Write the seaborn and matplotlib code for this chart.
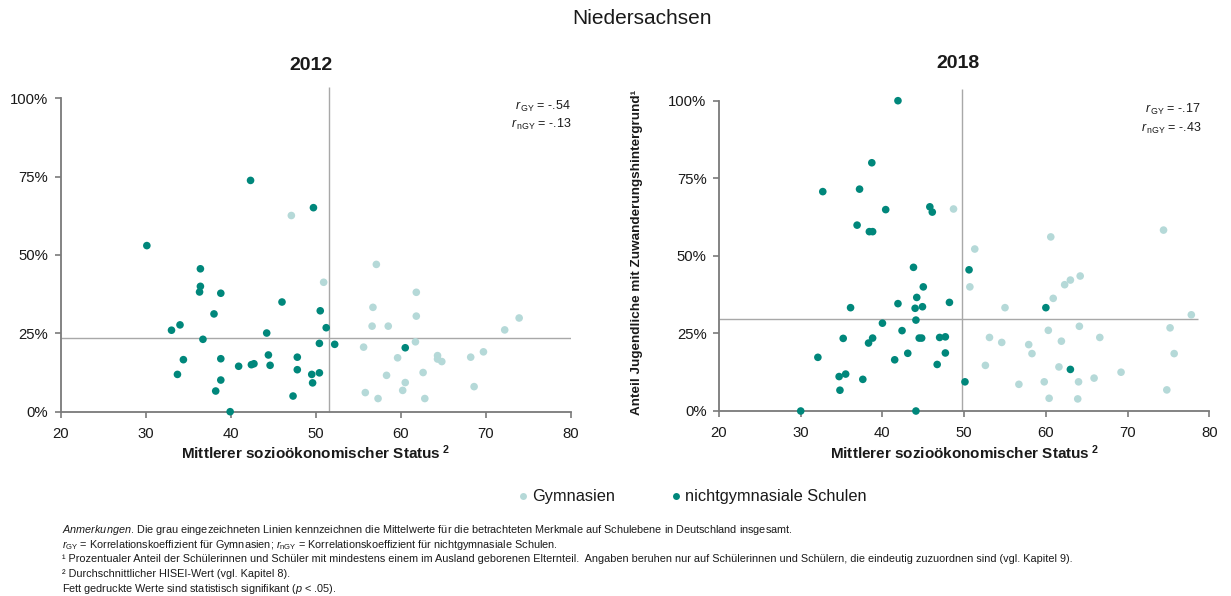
import matplotlib
matplotlib.use("Agg")
import matplotlib.pyplot as plt
import seaborn as sns
import pandas as pd
from matplotlib.lines import Line2D

# ---------------- data ----------------
REGION = "Niedersachsen"
YEARS = ["2012", "2018"]
GROUPS = ["Gymnasien", "nichtgymnasiale Schulen"]

# 2012
gy12_x = [47.1, 57.1, 50.9, 61.8, 56.7, 61.8, 56.6, 58.5, 73.9, 72.2, 61.7, 55.6, 59.6,
          64.3, 64.3, 64.8, 68.2, 69.7, 58.3, 62.6, 60.5, 60.2, 68.6, 55.8, 57.3, 62.8]
gy12_y = [62.6, 47.0, 41.3, 38.1, 33.3, 30.5, 27.3, 27.3, 29.9, 26.1, 22.3, 20.6, 17.2,
          17.9, 16.8, 16.0, 17.4, 19.1, 11.6, 12.5, 9.3, 6.8, 8.0, 6.1, 4.2, 4.2]
ngy12_x = [30.1, 36.4, 42.3, 49.7, 36.4, 36.3, 38.8, 38.0, 46.0, 50.5, 33.0, 34.0, 44.2,
           51.2, 36.7, 50.4, 34.4, 38.8, 44.4, 47.8, 33.7, 40.9, 42.4, 42.7, 44.6, 47.8,
           49.5, 50.4, 38.8, 49.6, 38.2, 47.3, 39.9, 52.2, 60.5]
ngy12_y = [53.0, 45.6, 73.8, 65.1, 40.0, 38.2, 37.8, 31.2, 35.0, 32.2, 26.0, 27.7, 25.1,
           26.8, 23.1, 21.8, 16.6, 16.9, 18.1, 17.4, 11.9, 14.5, 15.0, 15.3, 14.8, 13.4,
           11.9, 12.4, 10.1, 9.2, 6.6, 5.0, 0.0, 21.5, 20.4]

# 2018
gy18_x = [48.7, 60.6, 51.3, 74.4, 50.7, 64.2, 63.0, 62.3, 60.9, 55.0, 77.8, 60.3, 64.1,
          75.2, 53.1, 66.6, 54.6, 57.9, 61.9, 58.3, 75.7, 52.6, 61.6, 69.2, 65.9, 56.7,
          59.8, 64.0, 74.8, 60.4, 63.9]
gy18_y = [65.1, 56.1, 52.2, 58.3, 40.0, 43.5, 42.2, 40.7, 36.3, 33.3, 31.0, 26.0, 27.3,
          26.8, 23.7, 23.7, 22.1, 21.4, 22.5, 18.5, 18.5, 14.7, 14.2, 12.5, 10.6, 8.6,
          9.4, 9.4, 6.8, 4.1, 3.9]
ngy18_x = [41.9, 38.7, 32.7, 37.2, 40.4, 45.8, 46.1, 36.9, 38.4, 38.8, 43.8, 50.6, 45.0,
           44.2, 41.9, 44.0, 44.9, 36.1, 48.2, 44.1, 40.0, 42.4, 35.2, 38.8, 38.3, 44.5,
           44.8, 47.0, 47.7, 47.7, 43.1, 32.1, 41.5, 46.7, 34.7, 35.5, 37.6, 34.8, 30.0,
           44.1, 60.0, 63.0, 50.1]
ngy18_y = [100.0, 80.0, 70.7, 71.5, 64.9, 65.8, 64.1, 59.9, 57.8, 57.8, 46.3, 45.5, 40.0,
           36.6, 34.6, 33.1, 33.6, 33.3, 35.0, 29.3, 28.3, 25.9, 23.4, 23.5, 21.9, 23.5,
           23.5, 23.7, 23.9, 18.7, 18.6, 17.3, 16.5, 15.0, 11.1, 11.9, 10.2, 6.7, 0.0,
           0.0, 33.3, 13.4, 9.4]

MEAN_X = [51.5, 49.7]          # German mean HISEI per year
MEAN_Y = [23.4, 29.5]          # German mean share per year
R_GY = ["-.54", "-.17"]
R_NGY = ["-.13", "-.43"]

X_TICKS = [20, 30, 40, 50, 60, 70, 80]
Y_TICKS = [0, 25, 50, 75, 100]
Y_TICK_LABELS = ["0%", "25%", "50%", "75%", "100%"]

X_LABEL = "Mittlerer sozioökonomischer Status"
Y_LABEL = "Anteil Jugendliche mit Zuwanderungshintergrund¹"

FOOTNOTES = [
    r"$\mathit{Anmerkungen}$. Die grau eingezeichneten Linien kennzeichnen die Mittelwerte für die betrachteten Merkmale auf Schulebene in Deutschland insgesamt.",
    r"$\mathit{r}_{\mathrm{GY}}$ = Korrelationskoeffizient für Gymnasien; $\mathit{r}_{\mathrm{nGY}}$ = Korrelationskoeffizient für nichtgymnasiale Schulen.",
    "¹ Prozentualer Anteil der Schülerinnen und Schüler mit mindestens einem im Ausland geborenen Elternteil.  Angaben beruhen nur auf Schülerinnen und Schülern, die eindeutig zuzuordnen sind (vgl. Kapitel 9).",
    "² Durchschnittlicher HISEI-Wert (vgl. Kapitel 8).",
    r"Fett gedruckte Werte sind statistisch signifikant ($\mathit{p}$ < .05).",
]

# ---------------- style ----------------
COL_GY = "#b5d9d8"
COL_NGY = "#00877b"
LINE_COL = "#a8a8a8"
SPINE_COL = "#7a7a7a"
TXT = "#1a1a1a"

sns.set_theme(style="ticks")
plt.rcParams["font.family"] = ["Liberation Sans", "DejaVu Sans"]
plt.rcParams.update({
    "mathtext.fontset": "custom",
    "mathtext.rm": "Liberation Sans",
    "mathtext.it": "Liberation Sans:italic",
    "mathtext.bf": "Liberation Sans:bold",
    "text.color": TXT,
})

W, H = 1231, 596
fig = plt.figure(figsize=(W / 100, H / 100), dpi=100)


def fx(px):
    return px / W


def fy(py):
    return 1 - py / H


axL = fig.add_axes([fx(61), fy(411.7), fx(571) - fx(61), fy(98.3) - fy(411.7)])
axR = fig.add_axes([fx(719), fy(411), fx(1209.3) - fx(719), fy(100.7) - fy(411)])

datasets = [
    (gy12_x, gy12_y, ngy12_x, ngy12_y),
    (gy18_x, gy18_y, ngy18_x, ngy18_y),
]
hline_end = [80, 78.6]
r_pos = [(1.0, 0.975, 0.915), (0.983, 0.973, 0.912)]

for i, ax in enumerate([axL, axR]):
    gx, gy, nx, ny = datasets[i]
    df = pd.DataFrame({
        "x": gx + nx,
        "y": gy + ny,
        "Schulart": [GROUPS[0]] * len(gx) + [GROUPS[1]] * len(nx),
    })
    ax.hlines(MEAN_Y[i], 20, hline_end[i], color=LINE_COL, lw=1.0, zorder=1)
    ax.vlines(MEAN_X[i], 0, 103.7, color=LINE_COL, lw=1.0, zorder=1, clip_on=False)
    sns.scatterplot(data=df, x="x", y="y", hue="Schulart",
                    palette={GROUPS[0]: COL_GY, GROUPS[1]: COL_NGY},
                    s=30, edgecolor="none", linewidth=0, legend=False,
                    ax=ax, zorder=3, clip_on=False)
    ax.set_xlim(20, 80)
    ax.set_ylim(0, 100)
    ax.set_xticks(X_TICKS)
    ax.set_xticklabels([str(t) for t in X_TICKS])
    ax.set_yticks(Y_TICKS)
    ax.set_yticklabels(Y_TICK_LABELS)
    for s in ["top", "right"]:
        ax.spines[s].set_visible(False)
    for s in ["left", "bottom"]:
        ax.spines[s].set_color(SPINE_COL)
        ax.spines[s].set_linewidth(1.3)
    ax.tick_params(axis="both", colors=SPINE_COL, labelcolor=TXT,
                   labelsize=10.7, length=4, width=1.2, direction="out")
    ax.tick_params(axis="x", pad=7)
    ax.tick_params(axis="y", pad=5)
    ax.set_xlabel(X_LABEL + r"$^{\mathbf{\ 2}}$", fontsize=11, fontweight="bold",
                  labelpad=2, color=TXT)
    ax.set_ylabel("")
    ax.set_facecolor("white")

    rx, ry1, ry2 = r_pos[i]
    ax.text(rx, ry1, r"$\mathit{r}_{\,\mathrm{GY}}$ = " + R_GY[i], transform=ax.transAxes,
            ha="right", va="center", fontsize=9)
    ax.text(rx, ry2, r"$\mathit{r}_{\,\mathrm{nGY}}$ = " + R_NGY[i], transform=ax.transAxes,
            ha="right", va="center", fontsize=9)

axR.set_ylabel(Y_LABEL, fontsize=9.7, fontweight="bold", color=TXT)
axR.yaxis.set_label_coords(-0.156, 0.51)

fig.text(fx(642), fy(18), REGION, ha="center", va="center", fontsize=15)
fig.text(fx(311), fy(66), YEARS[0], ha="center", va="center", fontsize=14, fontweight="bold")
fig.text(fx(958), fy(63), YEARS[1], ha="center", va="center", fontsize=14, fontweight="bold")

handles = [
    Line2D([], [], marker="o", ls="none", color=COL_GY, markersize=5, markeredgewidth=0),
    Line2D([], [], marker="o", ls="none", color=COL_NGY, markersize=5, markeredgewidth=0),
]
fig.legend(handles, GROUPS, loc="center", bbox_to_anchor=(fx(693), fy(497)), ncol=2,
           frameon=False, fontsize=11.8, handlelength=0.5, handletextpad=0.3,
           columnspacing=3.5, borderpad=0)

foot_y = [530, 544.7, 559.4, 574.1, 588.8]
for t, yy in zip(FOOTNOTES, foot_y):
    fig.text(fx(62), fy(yy), t, ha="left", va="center", fontsize=7.8)

fig.savefig("out.png", dpi=100, facecolor="white")
